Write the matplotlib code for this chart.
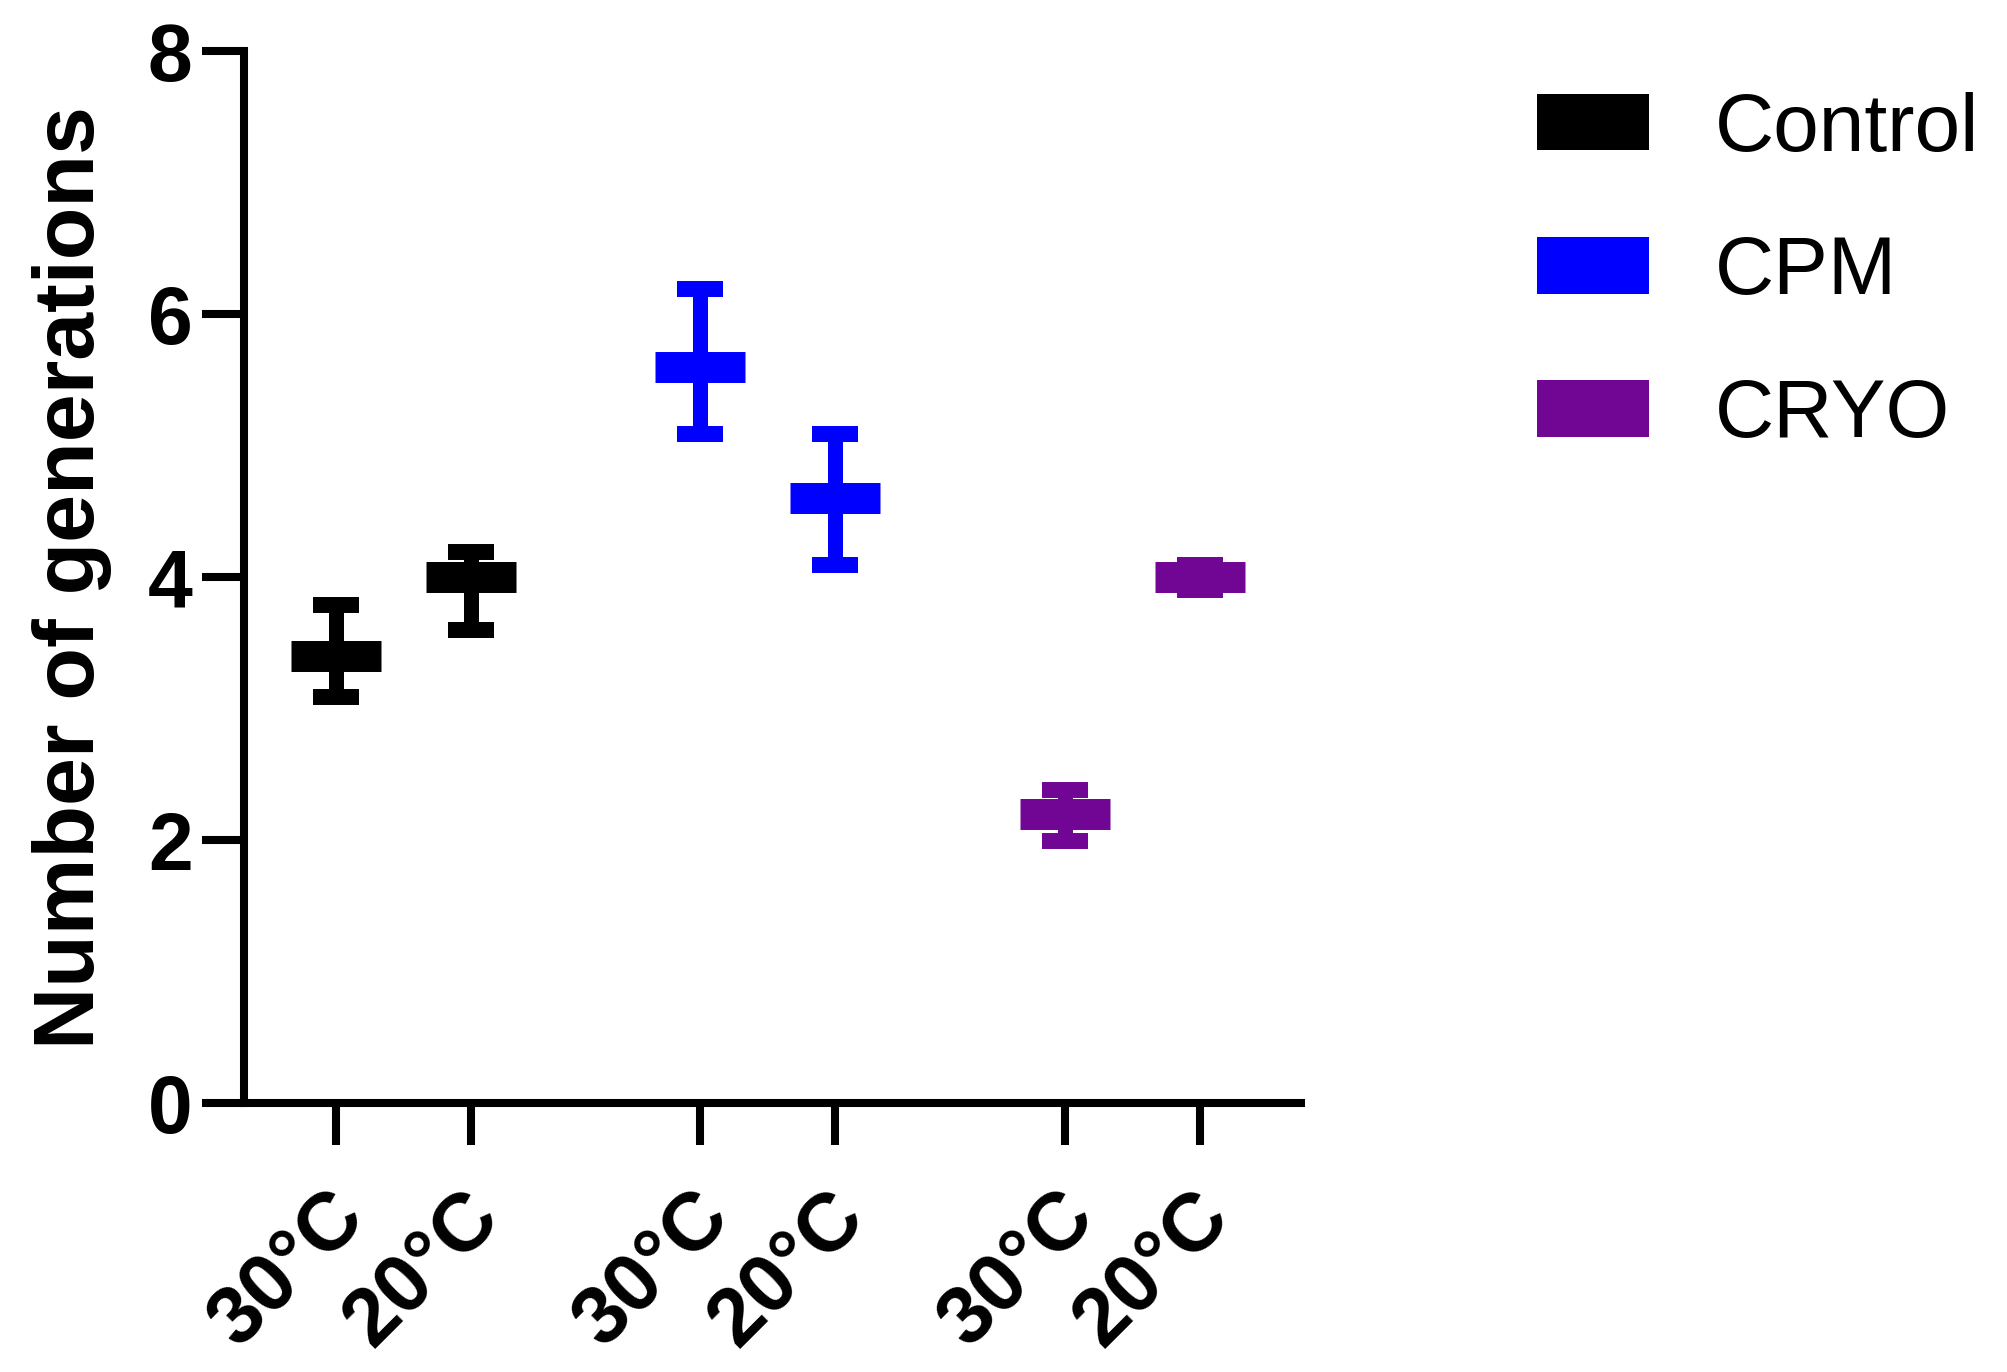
import matplotlib
matplotlib.use("Agg")
import matplotlib.pyplot as plt
from matplotlib.patches import Patch
from matplotlib.transforms import ScaledTranslation

plt.rcParams['font.family'] = ['Liberation Sans', 'DejaVu Sans']

# ---- data ----
groups = ["Control", "CPM", "CRYO"]
temps = ["30°C", "20°C"]
colors = ["#000000", "#0000FF", "#720694"]
means = [[3.40, 4.00], [5.60, 4.60], [2.20, 4.00]]
lows = [[3.09, 3.60], [5.09, 4.09], [1.99, 3.90]]
highs = [[3.79, 4.19], [6.19, 5.09], [2.38, 4.09]]
yticks = [0, 2, 4, 6, 8]
ylabel = "Number of generations"

fig = plt.figure(figsize=(20.08, 13.72), dpi=100)
ax = fig.add_axes([0.1215, 0.196, 0.648 - 0.1215, 0.9628 - 0.196])

lw = 5.8
positions = []
labels = []
handles = []
for g, (name, col) in enumerate(zip(groups, colors)):
    xs = [g * 2.7 + i for i in range(len(temps))]
    m = means[g]
    lo = [mm - l for mm, l in zip(m, lows[g])]
    hi = [h - mm for mm, h in zip(m, highs[g])]
    ax.errorbar(xs, m, yerr=[lo, hi], fmt='none', ecolor=col,
                elinewidth=10.8, capsize=16.5, capthick=11.5, zorder=3)
    ax.plot(xs, m, linestyle='none', marker='_', color=col, ms=65.5,
            mew=22.3, zorder=4)
    positions += xs
    labels += temps
    handles.append(Patch(facecolor=col, edgecolor='none', label=name))

ax.set_xlim(-0.678, 7.15)
ax.set_ylim(0, 8)
ax.tick_params(axis='y', length=30, width=lw, pad=7)
ax.tick_params(axis='x', length=30, width=lw, pad=43)
ax.set_yticks(yticks)
ax.set_yticklabels([str(t) for t in yticks], fontsize=58, fontweight='bold')
ax.set_xticks(positions)
ax.set_xticklabels(labels, fontsize=59, fontweight='bold', rotation=45,
                   ha='right', va='center', rotation_mode='anchor')
offset = ScaledTranslation(0.17, 0.0, fig.dpi_scale_trans)
for lab in ax.get_xticklabels():
    lab.set_transform(lab.get_transform() + offset)
for s in ['top', 'right']:
    ax.spines[s].set_visible(False)
for s in ['left', 'bottom']:
    ax.spines[s].set_linewidth(lw)
ax.set_ylabel(ylabel, fontsize=62, fontweight='bold', labelpad=26)

fig.legend(handles=handles, loc='upper left', bbox_to_anchor=(0.7655, 0.933),
           frameon=False, fontsize=59, handlelength=1.37, handleheight=0.68,
           handletextpad=0.8, labelspacing=0.82, borderpad=0, borderaxespad=0)

fig.savefig("out.png", dpi=100)
